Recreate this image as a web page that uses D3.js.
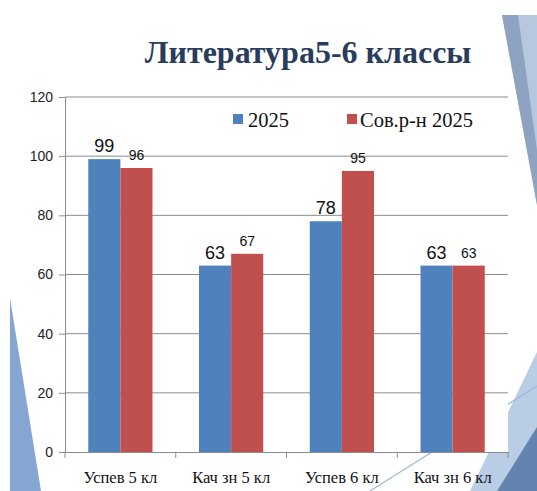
<!DOCTYPE html>
<html>
<head>
<meta charset="utf-8">
<script src="https://cdn.jsdelivr.net/npm/d3@7"></script>
<style>
  body { margin: 0; background: #fff; }
  svg { display: block; }
</style>
</head>
<body>
<div id="vis"></div>
<script>
// данные диаграммы
const categories = ["Успев 5 кл", "Кач зн 5 кл", "Успев 6 кл", "Кач зн 6 кл"];
const seriesNames = ["2025", "Сов.р-н 2025"];
const values2025 = [99, 63, 78, 63];
const valuesRegion = [96, 67, 95, 63];
const yTicks = [0, 20, 40, 60, 80, 100, 120];

const colors = ["#4F81BD", "#C0504D"];

const W = 537, H = 491;
const margin = {top: 97, right: 29, bottom: 39, left: 65};
const width = W - margin.left - margin.right,
      height = H - margin.top - margin.bottom;

const svg = d3.select("#vis").append("svg")
    .attr("width", W)
    .attr("height", H);

// фоновые треугольники слайда
const deco = svg.append("g");
deco.append("polygon").attr("points", "502,15 537,15 537,205").attr("fill", "#b7c8de");
deco.append("polygon").attr("points", "502,15 518,15 537,150 537,205").attr("fill", "#8ea3c2");
deco.append("polygon").attr("points", "10,298 10,491 41,491").attr("fill", "#85a6d0");
deco.append("polygon").attr("points", "470,491 537,352 537,491").attr("fill", "#b9cde5");
deco.append("polygon").attr("points", "497,491 537,427 537,491").attr("fill", "#6384ae");
deco.append("line").attr("x1", 370).attr("y1", 491).attr("x2", 537).attr("y2", 386)
    .attr("stroke", "#9fb8d8").attr("stroke-width", 1.2);

// заголовок
svg.append("text")
    .attr("x", 308).attr("y", 63)
    .attr("text-anchor", "middle")
    .style("font-family", "'Liberation Serif', 'Times New Roman', serif")
    .style("font-weight", "bold")
    .style("font-size", "32px")
    .attr("fill", "#283c5c")
    .text("Литература5-6 классы");

const g = svg.append("g")
    .attr("transform", "translate(" + margin.left + "," + margin.top + ")");

g.append("rect").attr("width", width).attr("height", height).attr("fill", "#fff");

const x0 = d3.scaleBand().domain(categories).range([0, width]).paddingInner(0.42).paddingOuter(0.21);
const x1 = d3.scaleBand().domain(seriesNames).range([0, x0.bandwidth()]);
const y = d3.scaleLinear().domain([0, 120]).range([height, 0]);

// сетка
g.selectAll(".grid").data(yTicks.filter(d => d > 0)).enter().append("line")
    .attr("x1", 0).attr("x2", width)
    .attr("y1", d => y(d)).attr("y2", d => y(d))
    .attr("stroke", "#8c8c8c").attr("stroke-width", 1);

// ось y
const yAxis = g.append("g")
    .call(d3.axisLeft(y).tickValues(yTicks).tickSize(6).tickPadding(6));
yAxis.select(".domain").attr("stroke", "#8c8c8c");
yAxis.selectAll(".tick line").attr("stroke", "#8c8c8c");
yAxis.selectAll("text")
    .style("font-family", "'Liberation Sans', Arial, sans-serif")
    .style("font-size", "14px")
    .attr("fill", "#222");

// ось x
const xAxis = g.append("g")
    .attr("transform", "translate(0," + height + ")")
    .call(d3.axisBottom(x0).tickSize(0).tickPadding(19));
xAxis.select(".domain").attr("stroke", "#8c8c8c");
xAxis.selectAll("text")
    .style("font-family", "'Liberation Serif', 'Times New Roman', serif")
    .style("font-size", "16.5px")
    .attr("fill", "#111");
const bounds = d3.range(categories.length + 1).map(i => i * width / categories.length);
g.selectAll(".xtick").data(bounds).enter().append("line")
    .attr("x1", d => d).attr("x2", d => d)
    .attr("y1", height).attr("y2", height + 6)
    .attr("stroke", "#8c8c8c");

// столбцы
const rows = categories.map((c, i) => ({cat: c, vals: [values2025[i], valuesRegion[i]]}));
const groups = g.selectAll(".grp").data(rows).enter().append("g")
    .attr("transform", d => "translate(" + x0(d.cat) + ",0)");

groups.selectAll("rect").data(d => d.vals.map((v, j) => ({name: seriesNames[j], v: v, j: j})))
    .enter().append("rect")
    .attr("x", d => x1(d.name))
    .attr("width", x1.bandwidth())
    .attr("y", d => y(d.v))
    .attr("height", d => height - y(d.v))
    .attr("fill", d => colors[d.j]);

groups.selectAll(".lbl").data(d => d.vals.map((v, j) => ({name: seriesNames[j], v: v, j: j})))
    .enter().append("text")
    .attr("x", d => x1(d.name) + x1.bandwidth() / 2)
    .attr("y", d => y(d.v) - (d.j === 0 ? 7 : 8))
    .attr("text-anchor", "middle")
    .style("font-family", "'Liberation Sans', Arial, sans-serif")
    .style("font-size", d => d.j === 0 ? "18px" : "14px")
    .attr("fill", "#111")
    .text(d => d.v);

// легенда
const legendX = [233, 347];
const legend = svg.selectAll(".leg").data(seriesNames).enter().append("g")
    .attr("transform", (d, i) => "translate(" + legendX[i] + ",114)");
legend.append("rect").attr("width", 10).attr("height", 10).attr("fill", (d, i) => colors[i]);
legend.append("text")
    .attr("x", (d, i) => i === 0 ? 15 : 13).attr("y", 13)
    .style("font-family", "'Liberation Serif', 'Times New Roman', serif")
    .style("font-size", "20.5px")
    .attr("fill", "#111")
    .text(d => d);
</script>
</body>
</html>
